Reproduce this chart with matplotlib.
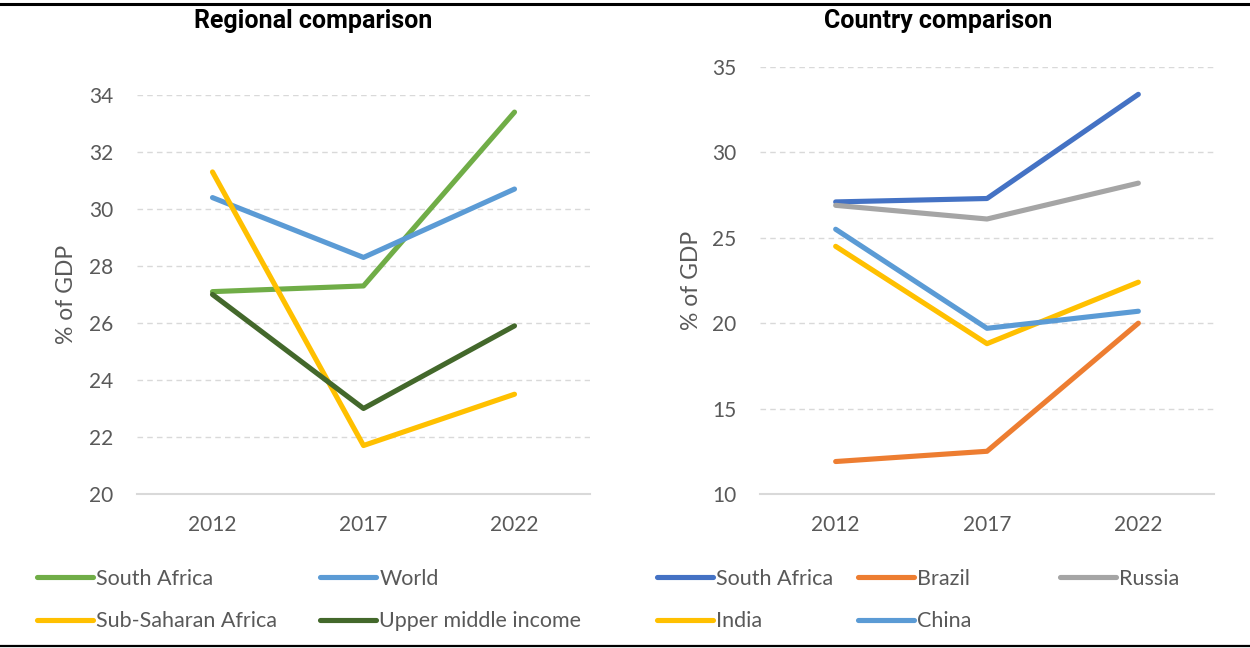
import matplotlib
matplotlib.use("Agg")
import matplotlib.pyplot as plt
from matplotlib.lines import Line2D

# data
years = ["2012", "2017", "2022"]

reg_south_africa = [27.1, 27.3, 33.4]
reg_world = [30.4, 28.3, 30.7]
reg_ssa = [31.3, 21.7, 23.5]
reg_umi = [27.0, 23.0, 25.9]

cty_south_africa = [27.1, 27.3, 33.4]
cty_brazil = [11.9, 12.5, 20.0]
cty_russia = [26.9, 26.1, 28.2]
cty_india = [24.5, 18.8, 22.4]
cty_china = [25.5, 19.7, 20.7]

GRAY = "#595959"
TXT = "Lato"
LW = 3.7

fig = plt.figure(figsize=(12.5, 6.48), dpi=100)


def style_ax(ax, lo, hi, step):
    ax.set_xlim(-0.5, 2.5)
    ax.set_ylim(lo, hi)
    ax.set_xticks(range(len(years)))
    ax.set_xticklabels(years)
    ax.set_yticks(range(lo, hi + 1, step))
    for s in ax.spines.values():
        s.set_visible(False)
    ax.grid(axis="y", color="#D9D9D9", linestyle=(0, (4, 3)), linewidth=1)
    ax.axhline(lo, color="#D9D9D9", linewidth=1.5, clip_on=False)
    ax.tick_params(length=0, colors=GRAY, labelsize=15)
    ax.tick_params(axis="y", pad=17)
    ax.tick_params(axis="x", pad=15)
    for lab in ax.get_xticklabels() + ax.get_yticklabels():
        lab.set_fontfamily(TXT)
    ax.set_ylabel("% of GDP", color=GRAY, fontsize=16.5, fontfamily=TXT)
    ax.set_axisbelow(True)


# left panel
ax1 = fig.add_axes([0.1096, 0.2377, 0.3624, 0.6157])
x = range(len(years))
l1, = ax1.plot(x, reg_south_africa, color="#70AD47", lw=LW, solid_capstyle="round")
l2, = ax1.plot(x, reg_world, color="#5B9BD5", lw=LW, solid_capstyle="round")
l3, = ax1.plot(x, reg_ssa, color="#FFC000", lw=LW, solid_capstyle="round")
l4, = ax1.plot(x, reg_umi, color="#43682B", lw=LW, solid_capstyle="round")
style_ax(ax1, 20, 34, 2)
ax1.yaxis.set_label_coords(-0.133, 0.5)

# right panel
ax2 = fig.add_axes([0.608, 0.2377, 0.3632, 0.6589])
r1, = ax2.plot(x, cty_south_africa, color="#4472C4", lw=LW, solid_capstyle="round")
r2, = ax2.plot(x, cty_brazil, color="#ED7D31", lw=LW, solid_capstyle="round")
r3, = ax2.plot(x, cty_russia, color="#A5A5A5", lw=LW, solid_capstyle="round")
r4, = ax2.plot(x, cty_india, color="#FFC000", lw=LW, solid_capstyle="round")
r5, = ax2.plot(x, cty_china, color="#5B9BD5", lw=LW, solid_capstyle="round")
style_ax(ax2, 10, 35, 5)
ax2.yaxis.set_label_coords(-0.128, 0.5)

fig.text(0.2504, 0.967, "Regional comparison", ha="center", va="center",
         fontsize=18, fontweight="bold", fontfamily="Roboto")
fig.text(0.7504, 0.967, "Country comparison", ha="center", va="center",
         fontsize=18, fontweight="bold", fontfamily="Roboto")

blank = Line2D([], [], alpha=0)


def column_legend(handles, labels, xpos):
    leg = fig.legend(handles, labels, loc="center left", bbox_to_anchor=(xpos, 0.0741),
                     frameon=False, borderpad=0, borderaxespad=0,
                     handlelength=2.6, handletextpad=0.15, labelspacing=1.05,
                     prop={"family": TXT, "size": 15.5})
    for t in leg.get_texts():
        t.set_color(GRAY)
    return leg


column_legend([l1, l3], ["South Africa", "Sub-Saharan Africa"], 0.0296)
column_legend([l2, l4], ["World", "Upper middle income"], 0.256)
column_legend([r1, r4], ["South Africa", "India"], 0.5256)
column_legend([r2, r5], ["Brazil", "China"], 0.6864)
column_legend([r3, blank], ["Russia", " "], 0.848)

# frame lines top and bottom
fig.add_artist(Line2D([0, 1], [0.9945, 0.9945], color="black", lw=2.2, transform=fig.transFigure))
fig.add_artist(Line2D([0, 1], [0.003, 0.003], color="black", lw=1.6, transform=fig.transFigure))

fig.savefig("out.png", dpi=100)
